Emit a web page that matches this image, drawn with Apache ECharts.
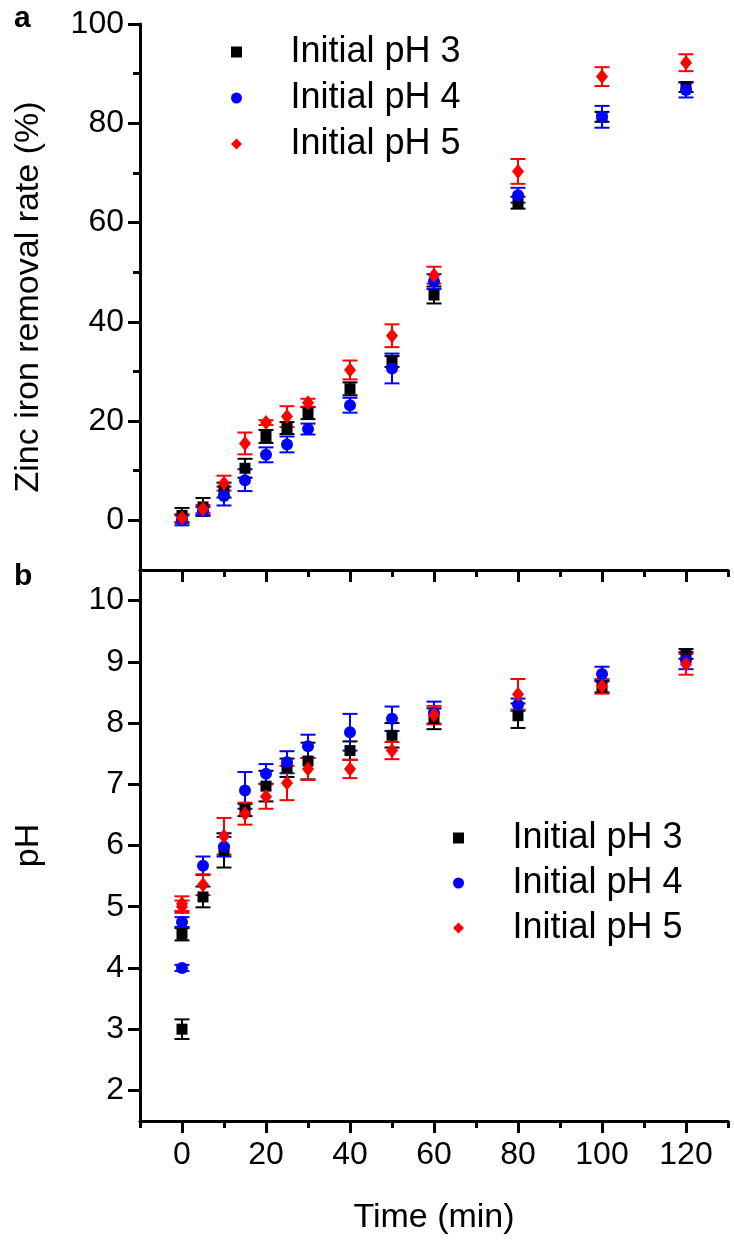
<!DOCTYPE html>
<html>
<head>
<meta charset="utf-8">
<script src="https://cdn.jsdelivr.net/npm/echarts@6/dist/echarts.min.js"></script>
<style>html,body{margin:0;padding:0;background:#fff}#chart{width:734px;height:1244px}</style>
</head>
<body>
<div id="chart"></div>
<script>
// ---------- data ----------
const seriesNames = ['Initial pH 3', 'Initial pH 4', 'Initial pH 5'];

// panel a: zinc removal rate (%)
const removalTimes = [0, 5, 10, 15, 20, 25, 30, 40, 50, 60, 80, 100, 120];
const removalPH3 = [1.0, 2.7, 6.1, 10.5, 16.9, 18.6, 21.6, 26.5, 32.0, 45.4, 64.0, 81.3, 87.3];
const removalPH3Err = [1.5, 1.8, 1.5, 1.9, 1.3, 1.2, 1.2, 1.3, 1.1, 1.7, 1.2, 1.0, 1.0];
const removalPH4 = [0.0, 1.9, 4.9, 8.1, 13.2, 15.3, 18.4, 23.2, 30.6, 48.1, 65.5, 81.3, 86.7];
const removalPH4Err = [1.0, 0.8, 1.9, 2.2, 1.5, 1.6, 1.1, 1.5, 3.0, 1.5, 1.5, 2.2, 1.5];
const removalPH5 = [0.5, 2.3, 7.5, 15.5, 19.7, 20.9, 23.7, 30.3, 37.2, 49.4, 70.3, 89.4, 92.2];
const removalPH5Err = [0.8, 0.8, 1.5, 2.2, 0.5, 2.1, 0.8, 1.9, 2.3, 1.7, 2.5, 1.9, 1.7];

// panel b: pH
const phTimes = [0, 0, 5, 10, 15, 20, 25, 30, 40, 50, 60, 80, 100, 120];
const phPH3 = [3.0, 4.55, 5.16, 5.92, 6.58, 6.97, 7.27, 7.38, 7.55, 7.8, 8.07, 8.12, 8.6, 9.13];
const phPH3Err = [0.16, 0.1, 0.17, 0.28, 0.1, 0.25, 0.15, 0.3, 0.15, 0.2, 0.17, 0.2, 0.1, 0.08];
const phPH4 = [4.0, 4.75, 5.67, 5.98, 6.9, 7.17, 7.36, 7.62, 7.85, 8.07, 8.17, 8.3, 8.8, 9.02];
const phPH4Err = [0.05, 0.08, 0.15, 0.16, 0.3, 0.16, 0.18, 0.19, 0.3, 0.2, 0.18, 0.1, 0.12, 0.14];
const phPH5 = [5.0, 5.05, 5.36, 6.15, 6.52, 6.8, 7.02, 7.25, 7.25, 7.55, 8.13, 8.47, 8.6, 8.96];
const phPH5Err = [0.1, 0.12, 0.17, 0.3, 0.18, 0.2, 0.28, 0.18, 0.15, 0.14, 0.15, 0.25, 0.12, 0.17];

// tick values
const xMajorTicks = [0, 20, 40, 60, 80, 100, 120];
const xMinorTicks = [-10, 10, 30, 50, 70, 90, 110, 130];
const removalMajorTicks = [0, 20, 40, 60, 80, 100];
const removalMinorTicks = [10, 30, 50, 70, 90];
const phMajorTicks = [2, 3, 4, 5, 6, 7, 8, 9, 10];

// ---------- chart ----------
const FONT = "'Liberation Sans', Arial, sans-serif";
const colors = ['#000000', '#0000ff', '#ff0000'];
const symbols = ['rect', 'circle', 'diamond'];
const symbolSizes = [11, 12, [12, 15]];
const legendIcons = ['path://M0,0H1V1H0Z', 'circle', 'path://M0,-1L1,0L0,1L-1,0Z'];

function rows(t, v, e) { return t.map((x, i) => [x, v[i], e[i]]); }

function errorBarSeries(name, data, color, xi, yi) {
  return {
    type: 'custom', name: name, xAxisIndex: xi, yAxisIndex: yi, silent: true,
    encode: { x: 0, y: 1 },
    data: data,
    renderItem: function (params, api) {
      const x = api.value(0), y = api.value(1), e = api.value(2);
      const hi = api.coord([x, y + e]);
      const lo = api.coord([x, y - e]);
      const w = 7.5;
      const st = { stroke: color, lineWidth: 2 };
      return {
        type: 'group',
        children: [
          { type: 'line', shape: { x1: hi[0], y1: hi[1], x2: lo[0], y2: lo[1] }, style: st },
          { type: 'line', shape: { x1: hi[0] - w, y1: hi[1], x2: hi[0] + w, y2: hi[1] }, style: st },
          { type: 'line', shape: { x1: lo[0] - w, y1: lo[1], x2: lo[0] + w, y2: lo[1] }, style: st }
        ]
      };
    }
  };
}

function scatterSeries(k, data, xi, yi) {
  return {
    type: 'scatter', name: seriesNames[k], xAxisIndex: xi, yAxisIndex: yi,
    symbol: symbols[k], symbolSize: symbolSizes[k],
    itemStyle: { color: colors[k], opacity: 1 },
    data: data.map(d => [d[0], d[1]])
  };
}

const topSets = [
  rows(removalTimes, removalPH3, removalPH3Err),
  rows(removalTimes, removalPH4, removalPH4Err),
  rows(removalTimes, removalPH5, removalPH5Err)
];
const botSets = [
  rows(phTimes, phPH3, phPH3Err),
  rows(phTimes, phPH4, phPH4Err),
  rows(phTimes, phPH5, phPH5Err)
];

const series = [];
for (let k = 0; k < 3; k++) {
  series.push(errorBarSeries('errA' + k, topSets[k], colors[k], 0, 0));
  series.push(scatterSeries(k, topSets[k], 0, 0));
}
for (let k = 0; k < 3; k++) {
  series.push(errorBarSeries('errB' + k, botSets[k], colors[k], 2, 2));
  series.push(scatterSeries(k, botSets[k], 2, 2));
}

const axisLine = { show: true, onZero: false, lineStyle: { color: '#000', width: 3 } };
const hiddenLine = { show: false, onZero: false };
const labelStyle = { color: '#000', fontSize: 32, fontFamily: FONT };
const tickStyle = { color: '#000', width: 3 };

function xAxisPair(gridIndex, withLabels) {
  const main = {
    type: 'value', gridIndex: gridIndex, position: 'bottom', min: -10, max: 130,
    axisLine: axisLine,
    axisTick: { show: true, length: 12, customValues: xMajorTicks, lineStyle: tickStyle },
    axisLabel: withLabels ? Object.assign({ show: true, margin: 18, customValues: xMajorTicks }, labelStyle) : { show: false },
    splitLine: { show: false }
  };
  if (withLabels) {
    main.name = 'Time (min)';
    main.nameLocation = 'middle';
    main.nameGap = 80;
    main.nameTextStyle = { color: '#000', fontSize: 34, fontFamily: FONT };
  }
  const minor = {
    type: 'value', gridIndex: gridIndex, position: 'bottom', min: -10, max: 130,
    axisLine: hiddenLine,
    axisTick: { show: true, length: 7, customValues: xMinorTicks, lineStyle: tickStyle },
    axisLabel: { show: false },
    splitLine: { show: false }
  };
  return [main, minor];
}

const legendData = seriesNames.map((n, k) => ({ name: n, icon: legendIcons[k] }));
const legendText = { color: '#000', fontSize: 36, fontFamily: FONT };

const option = {
  animation: false,
  backgroundColor: '#fff',
  grid: [
    { left: 140, top: 24, width: 588, height: 546 },
    { left: 140, top: 570, width: 588, height: 551 }
  ],
  xAxis: [].concat(xAxisPair(0, false), xAxisPair(1, true)),
  yAxis: [
    {
      type: 'value', gridIndex: 0, position: 'left', min: -10, max: 100,
      axisLine: axisLine,
      axisTick: { show: true, length: 12, customValues: removalMajorTicks, lineStyle: tickStyle },
      axisLabel: Object.assign({ show: true, margin: 16, customValues: removalMajorTicks }, labelStyle),
      splitLine: { show: false },
      name: 'Zinc iron removal rate (%)', nameLocation: 'middle', nameGap: 94,
      nameTextStyle: { color: '#000', fontSize: 34, fontFamily: FONT }
    },
    {
      type: 'value', gridIndex: 0, position: 'left', min: -10, max: 100,
      axisLine: hiddenLine,
      axisTick: { show: true, length: 7, customValues: removalMinorTicks, lineStyle: tickStyle },
      axisLabel: { show: false }, splitLine: { show: false }
    },
    {
      type: 'value', gridIndex: 1, position: 'left', min: 1.5, max: 10.5,
      axisLine: axisLine,
      axisTick: { show: true, length: 12, customValues: phMajorTicks, lineStyle: tickStyle },
      axisLabel: Object.assign({ show: true, margin: 16, customValues: phMajorTicks }, labelStyle),
      splitLine: { show: false },
      name: 'pH', nameLocation: 'middle', nameGap: 94,
      nameTextStyle: { color: '#000', fontSize: 34, fontFamily: FONT }
    }
  ],
  legend: [
    {
      left: 231, top: 34, orient: 'vertical', padding: 0, selectedMode: false,
      itemWidth: 98, itemHeight: 11, itemGap: 10,
      textStyle: legendText,
      data: legendData
    },
    {
      left: 453, top: 820, orient: 'vertical', padding: 0, selectedMode: false,
      itemWidth: 98, itemHeight: 11, itemGap: 9,
      textStyle: legendText,
      data: legendData
    }
  ],
  graphic: [
    { type: 'text', left: 14, top: 4, style: { text: 'a', fill: '#000', font: 'bold 30px ' + FONT } },
    { type: 'text', left: 14, top: 562, style: { text: 'b', fill: '#000', font: 'bold 30px ' + FONT } }
  ],
  series: series
};

const chart = echarts.init(document.getElementById('chart'), null, { renderer: 'canvas' });
chart.setOption(option);
</script>
</body>
</html>
